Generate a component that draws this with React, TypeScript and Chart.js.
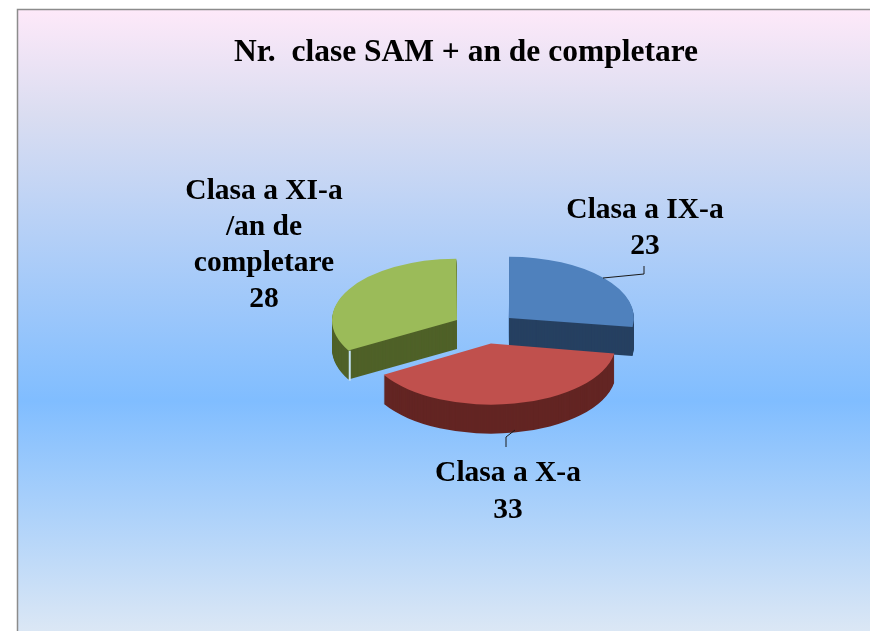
import React, { useEffect, useRef } from "react";
import { Chart, registerables } from "chart.js";

Chart.register(...registerables);

const titleText = "Nr.  clase SAM + an de completare";
const categories = ["Clasa a IX-a", "Clasa a X-a", "Clasa a XI-a /an de completare"];
const values = [23, 33, 28];
const topColors = ["#4F81BD", "#C0504D", "#9BBB59"];
const sideColors = ["#264061", "#632523", "#4F6128"];
const explodeOffsets = [126.6, 128, 129.3];
const labelLines = [["Clasa a IX-a", "23"], ["Clasa a X-a", "33"], ["Clasa a XI-a", "/an de", "completare", "28"]];

const FONT = '"Liberation Serif", "Times New Roman", serif';
const PIE_X = 485;
const PIE_Y = 328;
const RADIUS = 125;
const SQUASH = 0.49;
const DEPTH = 29;

const labelLayout = [
  { x: 645, y: 218, step: 36 },
  { x: 508, y: 481, step: 37 },
  { x: 264, y: 199, step: 36 },
];
const leaders = [
  [[603, 278], [644, 274], [644, 266]],
  [[515, 430], [506, 437], [506, 447]],
];

const pie3d = {
  id: "pie3d",
  beforeDraw(chart: any) {
    const { ctx, width, height } = chart;
    const g = ctx.createLinearGradient(0, 9, 0, height);
    g.addColorStop(0, "#FEE9F9");
    g.addColorStop(0.17, "#DADDF1");
    g.addColorStop(0.63, "#80BDFF");
    g.addColorStop(1, "#DBE7F5");
    ctx.save();
    ctx.fillStyle = "#FFFFFF";
    ctx.fillRect(0, 0, width, height);
    ctx.fillStyle = g;
    ctx.fillRect(17, 9, width - 17, height - 9);
    ctx.strokeStyle = "#8C8C8C";
    ctx.lineWidth = 1.5;
    ctx.beginPath();
    ctx.moveTo(17.5, height);
    ctx.lineTo(17.5, 9.5);
    ctx.lineTo(width, 9.5);
    ctx.stroke();
    ctx.restore();
  },
  beforeDatasetsDraw(chart: any) {
    const { ctx } = chart;
    const arcs = chart.getDatasetMeta(0).data;
    const cx = arcs[0].x;
    const cy = arcs[0].y;
    // Chart.js grows an exploded arc's radius a little: cancel it so all slices share one radius
    arcs.forEach((a: any, i: number) => {
      const fix = 1 - Math.sin(Math.min(Math.PI, a.circumference));
      a.outerRadius = RADIUS - (explodeOffsets[i] / 4) * fix;
    });
    const place = (dy: number) => {
      ctx.translate(PIE_X, PIE_Y + dy);
      ctx.scale(1, SQUASH);
      ctx.translate(-cx, -cy);
    };
    [0, 2, 1].forEach((i) => {
      const clone = Object.create(arcs[i]);
      clone.options = { ...arcs[i].options, backgroundColor: sideColors[i], borderWidth: 0 };
      for (let d = DEPTH; d >= 1; d--) {
        ctx.save();
        place(d);
        clone.draw(ctx);
        ctx.restore();
      }
    });
    // pale seam between the rim and the cut face of the last slice
    const a = arcs[2];
    const mid = (a.startAngle + a.endAngle) / 2;
    const shift = explodeOffsets[2] / 4;
    const ex = PIE_X + Math.cos(mid) * shift + Math.cos(a.startAngle) * RADIUS;
    const ey = PIE_Y + (Math.sin(mid) * shift + Math.sin(a.startAngle) * RADIUS) * SQUASH;
    ctx.save();
    ctx.strokeStyle = "#C4E2F7";
    ctx.lineWidth = 2;
    ctx.beginPath();
    ctx.moveTo(ex + 1, ey);
    ctx.lineTo(ex + 1, ey + DEPTH + 1);
    ctx.stroke();
    ctx.restore();
    ctx.save();
    place(0);
  },
  afterDatasetsDraw(chart: any) {
    const { ctx } = chart;
    ctx.restore();
    ctx.save();
    ctx.strokeStyle = "#1A1A1A";
    ctx.lineWidth = 1;
    leaders.forEach((pts) => {
      ctx.beginPath();
      pts.forEach(([x, y], i) => (i ? ctx.lineTo(x, y) : ctx.moveTo(x, y)));
      ctx.stroke();
    });
    ctx.fillStyle = "#000000";
    ctx.font = `bold 29.5px ${FONT}`;
    ctx.textAlign = "center";
    ctx.textBaseline = "alphabetic";
    labelLines.forEach((lines, i) => {
      const l = labelLayout[i];
      lines.forEach((t, j) => ctx.fillText(t, l.x, l.y + j * l.step));
    });
    ctx.restore();
  },
};

export default function App() {
  const ref = useRef<HTMLCanvasElement>(null);
  useEffect(() => {
    const chart = new Chart(ref.current as HTMLCanvasElement, {
      type: "pie",
      data: {
        labels: categories,
        datasets: [
          {
            data: values,
            backgroundColor: topColors,
            borderWidth: 0,
            offset: explodeOffsets,
            clip: false,
          } as any,
        ],
      },
      options: {
        responsive: false,
        animation: false,
        radius: RADIUS,
        layout: { padding: { left: 62, right: 0, top: 0, bottom: 0 } },
        plugins: {
          legend: { display: false },
          tooltip: { enabled: false },
          title: {
            display: true,
            text: titleText,
            color: "#000000",
            font: { family: FONT, size: 31.5, weight: "bold" },
            padding: { top: 34, bottom: 10 },
          },
        },
      } as any,
      plugins: [pie3d],
    });
    return () => chart.destroy();
  }, []);
  return (
    <div style={{ position: "fixed", left: 0, top: 0, width: 870, height: 631, overflow: "hidden" }}>
      <canvas ref={ref} width={870} height={631} style={{ display: "block" }} />
    </div>
  );
}
